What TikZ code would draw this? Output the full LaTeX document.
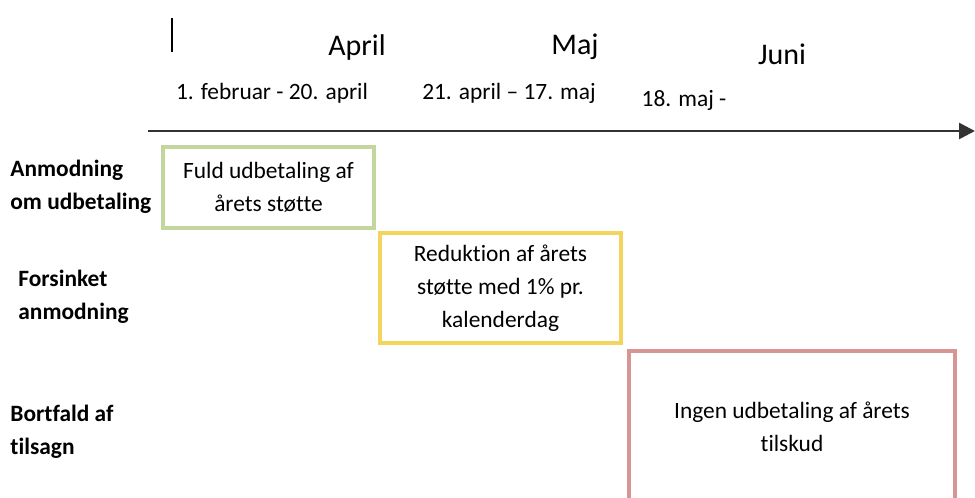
\documentclass[tikz,border=0pt]{standalone}
\usepackage{fontspec}
\setmainfont{Carlito}[Ligatures={TeX,NoCommon}]
\definecolor{okgreen}{HTML}{C3D69B}
\definecolor{lateyellow}{HTML}{F5D45E}
\definecolor{lapsered}{HTML}{D99594}
\usetikzlibrary{arrows.meta, positioning}

\begin{document}
\begin{tikzpicture}[x=0.5pt, y=-0.5pt,
  phase/.style={draw, line width=2pt, align=center, inner sep=0pt, font=\fontsize{11.7}{16.5}\selectfont},
  rowlabel/.style={anchor=west, align=left, inner sep=0pt, font=\fontsize{11.7}{16.5}\selectfont\bfseries},
  month/.style={inner sep=0pt, font=\fontsize{15}{18}\selectfont},
  period/.style={inner sep=0pt, font=\fontsize{11.7}{14}\selectfont}]
  \useasboundingbox (0,0) rectangle (975,498);
  \clip (0,0) rectangle (975,498);

  % timeline
  \coordinate (tstart) at (148,131);
  \coordinate (tend) at (975,131);
  \coordinate (ticktop) at (172,18);
  \coordinate (tickbot) at (172,52);
  \draw[line width=0.8pt] (ticktop) -- (tickbot);
  \draw[black!80, line width=1.3pt, -{Triangle[length=8pt, width=8pt]}] (tstart) -- (tend);

  \node[month] (april) at (357,48) {April};
  \node[month] (maj) at (575,47) {Maj};
  \node[month] (juni) at (782,54) {Juni};
  \node[period] (p1) at (272,93) {1. februar - 20. april};
  \node[period] (p2) at (509,93) {21. april – 17. maj};
  \node[period] (p3) at (684,100) {18. maj -};

  % rows
  \node[rowlabel] (request) at (10,187) {Anmodning\\om udbetaling};
  \node[rowlabel] (late) at (18,297) {Forsinket\\anmodning};
  \node[rowlabel] (lapse) at (10,432) {Bortfald af\\tilsagn};

  % boxes
  \node[phase, draw=okgreen, minimum width=105.5pt, minimum height=40.5pt] (full) at (268.5,187.5)
    {Fuld udbetaling af\\årets støtte};
  \node[phase, draw=lateyellow, minimum width=120.5pt, minimum height=55pt,
    below right=0.5pt and 1pt of full] (reduced)
    {Reduktion af årets\\støtte med 1\% pr.\\kalenderdag};
  \node[phase, draw=lapsered, minimum width=163pt, minimum height=76pt,
    below right=2pt and 2pt of reduced] (none)
    {Ingen udbetaling af årets\\tilskud};
\end{tikzpicture}
\end{document}
